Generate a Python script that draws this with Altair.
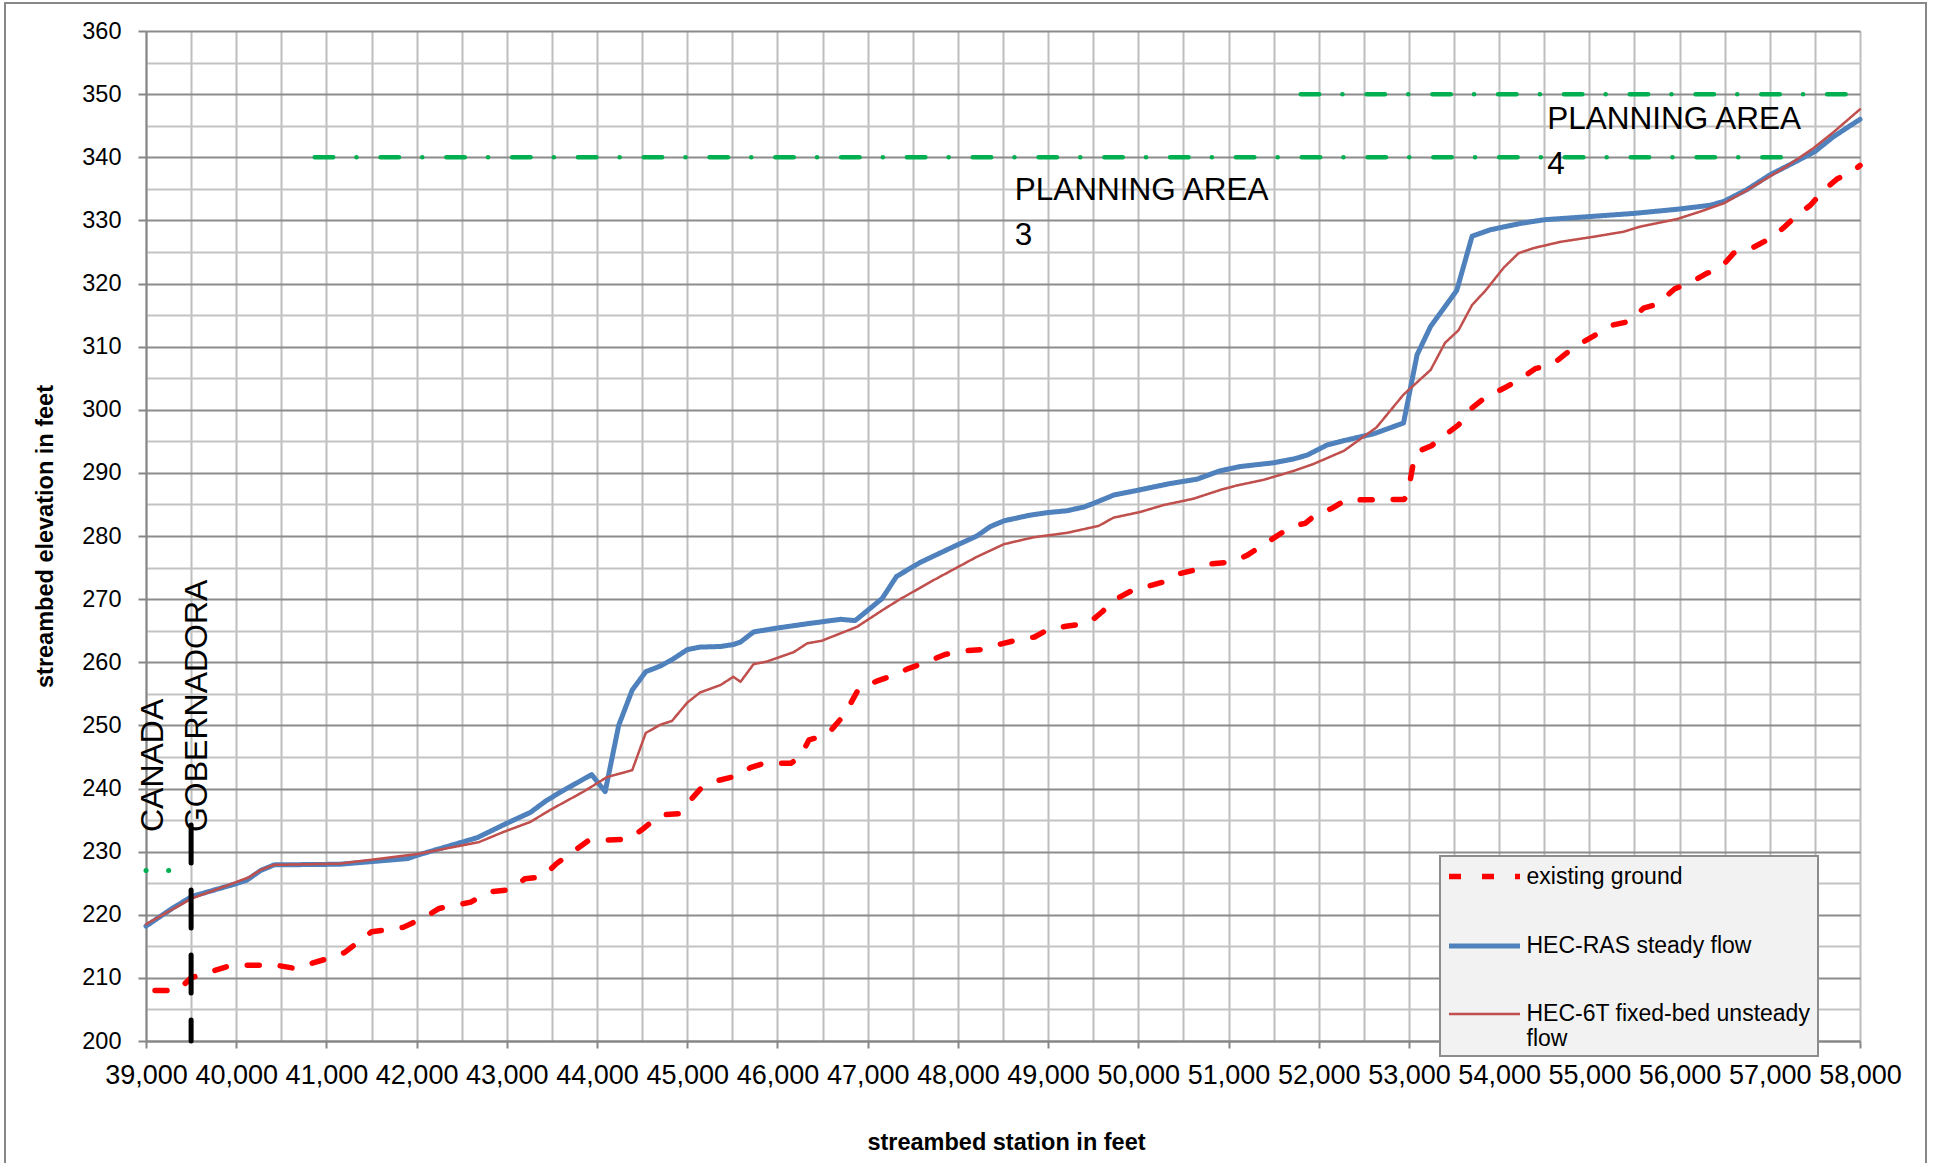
import altair as alt
import pandas as pd

# ---- streambed profiles: station (ft) and elevation (ft) ----
ground_station = [39100, 39350, 39500, 39900, 40050, 40450, 40650, 41000, 41200, 41500,
                  41850, 42100, 42250, 42600, 42800, 43050, 43200, 43400, 43550, 43900,
                  44350, 44500, 44700, 44900, 45050, 45150, 45350, 45550, 45700, 45850,
                  46150, 46250, 46350, 46550, 46700, 46800, 46900, 47100, 47300, 47450,
                  47650, 47850, 48050, 48250, 48450, 48650, 48850, 49000, 49200, 49450,
                  49600, 49750, 49950, 50100, 50300, 50450, 50650, 50800, 51050, 51200,
                  51450, 51600, 51750, 51850, 51950, 52150, 52300, 52950, 53000, 53050,
                  53100, 53250, 53400, 53550, 53700, 53850, 54050, 54250, 54400, 54600,
                  54750, 54900, 55050, 55250, 55450, 55600, 55750, 55950, 56100, 56300,
                  56450, 56600, 56800, 57000, 57150, 57300, 57450, 57600, 57750, 57900,
                  58000]
ground_elev = [208, 208, 210, 211.8, 212, 212, 211.5, 213, 214, 217.3,
               218, 219.7, 221, 222, 223.6, 224, 225.7, 226, 228.1, 231.7,
               232, 233.5, 235.8, 236, 238.4, 240, 241.3, 242, 243.3, 244,
               244, 245, 247.7, 248.5, 251, 253.2, 255.8, 257, 258, 259,
               260, 261.2, 261.8, 262, 262.8, 263.5, 264, 265.2, 265.7, 266.2,
               268, 270, 271.5, 272, 272.8, 274, 274.7, 275.6, 275.9, 276.9,
               279.2, 280.6, 281.7, 282, 283.2, 284.4, 285.7, 285.8, 287.7, 291.7,
               293.4, 294.3, 296, 297.6, 300.3, 302, 303.4, 305, 306.5, 307.3,
               309, 310.5, 311.7, 313.4, 314, 316.1, 316.7, 319.2, 320, 321.6,
               322.4, 324.8, 325.6, 327.1, 328.8, 330.8, 332.4, 334.8, 336.6, 337.6,
               338.7]

ras_station = [39000, 39290, 39510, 39970, 40120, 40270, 40420, 41150, 41900, 42000,
               42670, 43000, 43260, 43430, 43590, 43940, 44090, 44240, 44390, 44540,
               44700, 44830, 45000, 45140, 45370, 45510, 45590, 45735, 45990, 46330,
               46700, 46860, 46990, 47160, 47320, 47580, 47950, 48210, 48360, 48510,
               48800, 48990, 49210, 49400, 49560, 49730, 49980, 50350, 50650, 50900,
               51130, 51500, 51720, 51870, 52090, 52310, 52610, 52940, 53090, 53240,
               53530, 53700, 53900, 54230, 54500, 55000, 55490, 56000, 56340, 56490,
               56750, 57000, 57260, 57500, 57700, 57870, 58000]
ras_elev = [218.2, 221.0, 222.9, 224.8, 225.5, 227.0, 227.9, 228.0, 228.9, 229.4,
            232.2, 234.5, 236.2, 238.0, 239.4, 242.2, 239.5, 250.0, 255.6, 258.5,
            259.4, 260.4, 262.0, 262.4, 262.5, 262.8, 263.2, 264.8, 265.4, 266.1,
            266.8, 266.6, 268.1, 270.1, 273.6, 275.8, 278.3, 280.0, 281.5, 282.4,
            283.3, 283.7, 284.0, 284.6, 285.5, 286.5, 287.2, 288.3, 289.0, 290.3,
            291.0, 291.6, 292.2, 292.8, 294.4, 295.2, 296.2, 297.9, 308.7, 313.2,
            318.9, 327.5, 328.5, 329.5, 330.1, 330.6, 331.1, 331.8, 332.4, 333.0,
            334.9, 337.2, 339.1, 340.9, 343.2, 344.8, 346.0]

hec6t_station = [39000, 39510, 39970, 40150, 40270, 40420, 41150, 42000, 42690, 42960,
                 43260, 43480, 43850, 44110, 44390, 44540, 44700, 44830, 45000, 45140,
                 45370, 45510, 45590, 45735, 45880, 46180, 46330, 46490, 46880, 47180,
                 47360, 47730, 48210, 48510, 48840, 49210, 49560, 49725, 50020, 50280,
                 50610, 50910, 51090, 51390, 51720, 51940, 52280, 52640, 52940, 53240,
                 53400, 53550, 53700, 53850, 54050, 54215, 54380, 54680, 55045, 55380,
                 55560, 55970, 56230, 56490, 56750, 57190, 57480, 57700, 58000]
hec6t_elev = [218.5, 222.6, 225.0, 226.0, 227.1, 227.9, 228.1, 229.6, 231.5, 233.1,
              234.7, 236.6, 239.5, 241.8, 242.9, 248.8, 250.1, 250.7, 253.6, 255.2,
              256.4, 257.7, 256.9, 259.7, 260.1, 261.6, 263.0, 263.4, 265.6, 268.4,
              270.0, 273.0, 276.7, 278.7, 279.8, 280.5, 281.6, 282.9, 283.8, 284.9,
              285.9, 287.3, 288.0, 288.9, 290.3, 291.4, 293.5, 297.2, 302.4, 306.3,
              310.6, 312.6, 316.6, 318.9, 322.5, 324.8, 325.6, 326.6, 327.4, 328.2,
              329.0, 330.2, 331.4, 332.7, 334.8, 338.6, 341.4, 343.9, 347.6]

series_names = ["existing ground", "HEC-RAS steady flow", "HEC-6T fixed-bed unsteady flow"]

# ---- planning-area boundary markers ----
area_id = ["PA3", "PA4"]
area_start = [40870, 51800]
area_end = [57200, 57890]
area_elev = [340, 350]

cg_start = 39000
cg_end = 39500
cg_elev = 227

# ---- Canada Gobernadora confluence ----
confluence_station = [39500, 39500]
confluence_elev = [234.2, 200]

# ---- annotations ----
area_label = ["PLANNING AREA\n3", "PLANNING AREA\n4"]
area_label_station = [48630, 54532]
area_label_elev = [333.2, 344.4]

trib_label = ["CANADA", "GOBERNADORA"]
trib_label_station = [39076, 39570]
trib_label_elev = [233.1, 233.1]

# ---------------------------------------------------------------
FONT = "Liberation Sans"
GRID_MAJOR = "#8C8C8C"
GRID_MINOR = "#C3C3C3"
AXIS_GRAY = "#868686"

profiles = pd.concat([
    pd.DataFrame({"station": ground_station, "elev": ground_elev, "series": series_names[0]}),
    pd.DataFrame({"station": ras_station, "elev": ras_elev, "series": series_names[1]}),
    pd.DataFrame({"station": hec6t_station, "elev": hec6t_elev, "series": series_names[2]}),
], ignore_index=True)

areas = pd.DataFrame({
    "id": area_id * 2,
    "station": area_start + area_end,
    "elev": area_elev * 2,
})
cg = pd.DataFrame({"station": [cg_start, cg_end], "elev": [cg_elev, cg_elev]})
confluence = pd.DataFrame({"station": confluence_station, "elev": confluence_elev,
                           "seq": list(range(len(confluence_station)))})
area_notes = pd.DataFrame({"label": area_label, "station": area_label_station,
                           "elev": area_label_elev})
trib_notes = pd.DataFrame({"label": trib_label, "station": trib_label_station,
                           "elev": trib_label_elev})

x_scale = alt.Scale(domain=[39000, 58000], nice=False, zero=False)
y_scale = alt.Scale(domain=[200, 360], nice=False, zero=False)

x_axis = alt.Axis(
    values=list(range(39000, 58001, 500)),
    labelExpr="datum.value % 1000 === 0 ? format(datum.value, ',') : ''",
    labelFont=FONT, labelFontSize=27, labelColor="#000000",
    labelPadding=14, labelOverlap=False, labelFlush=False,
    tickSize=7, tickWidth=2, tickColor=AXIS_GRAY,
    tickOpacity={"condition": {"test": "datum.value % 1000 === 0", "value": 1}, "value": 0},
    domainColor=AXIS_GRAY, domainWidth=2,
    grid=True, gridColor="#BEBEBE", gridWidth=2,
    title="streambed station in feet", titleFont=FONT, titleFontSize=23.5,
    titleFontWeight="bold", titleColor="#000000",
    titleX=860, titleY=108, titleAlign="center", titleBaseline="alphabetic",
)
y_axis = alt.Axis(
    values=list(range(200, 361, 5)),
    labelExpr="datum.value % 10 === 0 ? '' + datum.value : ''",
    labelFont=FONT, labelFontSize=23.5, labelColor="#000000",
    labelPadding=17, labelOverlap=False, labelFlush=False,
    tickSize=8, tickWidth=2, tickColor=AXIS_GRAY,
    tickOpacity={"condition": {"test": "datum.value % 10 === 0", "value": 1}, "value": 0},
    domainColor=AXIS_GRAY, domainWidth=2,
    grid=True, gridWidth=2,
    gridColor={"condition": {"test": "datum.value % 10 === 0", "value": GRID_MAJOR},
               "value": GRID_MINOR},
    title="streambed elevation in feet", titleFont=FONT, titleFontSize=23.5,
    titleFontWeight="bold", titleColor="#000000",
    titleAngle=270, titleX=-94, titleY=505, titleAlign="center", titleBaseline="alphabetic",
)

X = alt.X("station:Q", scale=x_scale, axis=x_axis)
Y = alt.Y("elev:Q", scale=y_scale, axis=y_axis)

legend = alt.Legend(
    title=None, orient="none", legendX=1292, legendY=799,
    symbolType="stroke", symbolSize=5041,
    labelFont=FONT, labelFontSize=23, labelColor="#000000", labelLimit=600,
    labelOffset=3.5, padding=8, rowPadding=19,
    labelExpr="datum.label === 'HEC-6T fixed-bed unsteady flow' ? "
              "['HEC-6T fixed-bed unsteady', 'flow'] : datum.label",
)

# chart-area frame and the legend panel behind the legend entries
frame = alt.Chart(pd.DataFrame({"k": [0]})).mark_rect(
    fillOpacity=0, stroke="#888888", strokeWidth=2
).encode(x=alt.value(-141), x2=alt.value(1780), y=alt.value(-28), y2=alt.value(1150))

legend_panel = alt.Chart(pd.DataFrame({"k": [0]})).mark_rect(
    fill="#F2F2F2", stroke="#8C8C8C", strokeWidth=2
).encode(x=alt.value(1294), x2=alt.value(1672), y=alt.value(825), y2=alt.value(1025))

area_lines = alt.Chart(areas).mark_line(
    color="#00B050", strokeWidth=4.5, strokeCap="round",
    strokeDash=[18.5, 23.2, 0.1, 24],
).encode(x=X, y=Y, detail="id:N")

cg_line = alt.Chart(cg).mark_line(
    color="#00B050", strokeWidth=5, strokeCap="round", strokeDash=[0.1, 22.5],
).encode(x=X, y=Y)

profile_lines = alt.Chart(profiles).mark_line(strokeCap="round", strokeJoin="round").encode(
    x=X, y=Y,
    color=alt.Color("series:N", scale=alt.Scale(domain=series_names,
                                                range=["#FF0000", "#4F81BD", "#C0504D"]),
                    legend=legend),
    strokeDash=alt.StrokeDash("series:N", scale=alt.Scale(domain=series_names,
                                                          range=[[12, 21], [1, 0], [1, 0]]),
                              legend=legend),
    strokeWidth=alt.StrokeWidth("series:N", scale=alt.Scale(type="ordinal", domain=series_names,
                                                            range=[5.5, 5, 2.5]),
                                legend=legend),
)

confluence_line = alt.Chart(confluence).mark_line(
    color="#000000", strokeWidth=5, strokeCap="round", strokeDash=[38, 27],
).encode(x=X, y=Y, order="seq:Q")

area_text = alt.Chart(area_notes).mark_text(
    font=FONT, fontSize=31.5, align="left", baseline="alphabetic",
    lineBreak="\n", lineHeight=45, color="#000000",
).encode(x=X, y=Y, text="label:N")

trib_text = alt.Chart(trib_notes).mark_text(
    font=FONT, fontSize=32, align="left", baseline="middle", angle=270, color="#000000",
).encode(x=X, y=Y, text="label:N")

chart = alt.layer(
    frame, legend_panel, area_lines, cg_line, profile_lines, confluence_line,
    area_text, trib_text
).properties(
    width=1714, height=1010,
    padding={"left": 146, "top": 31, "right": 75, "bottom": 122},
    autosize=alt.AutoSizeParams(type="none"),
    background="#FFFFFF",
).configure_view(stroke="transparent")

chart.save("out.html", embed_options={"renderer": "svg", "actions": False})
